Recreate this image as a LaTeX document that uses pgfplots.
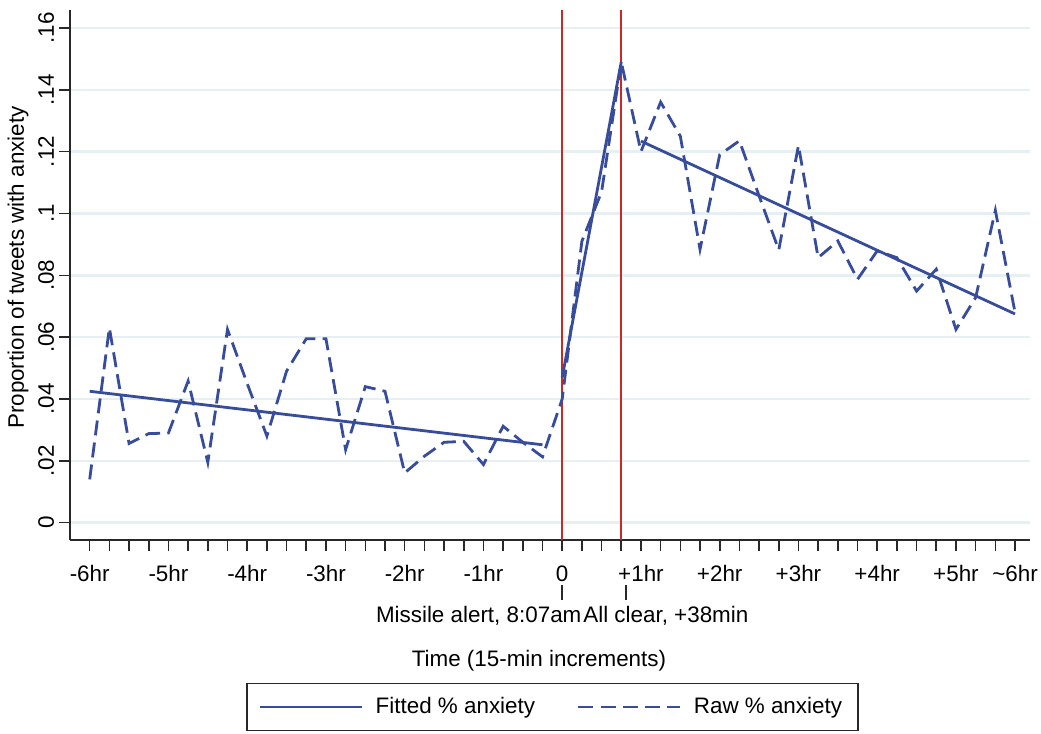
\documentclass[border=0pt]{standalone}
\usepackage{fontspec}
\setmainfont{Liberation Sans}
\usepackage{pgfplots}
\pgfplotsset{compat=1.18}
\usepackage{pgfplotstable}

\definecolor{stblue}{RGB}{56,76,156}
\definecolor{stred}{RGB}{204,40,36}
\definecolor{stgrid}{RGB}{230,239,242}
\definecolor{axisgray}{RGB}{40,40,40}

\newcommand\fs{\fontsize{11.2}{13.4}\selectfont}

% raw share per 15-min slot, 0 = missile alert
\pgfplotstableread{
t raw
-24 0.0140
-23 0.0630
-22 0.0256
-21 0.0288
-20 0.0290
-19 0.0458
-18 0.0195
-17 0.0625
-16 0.0450
-15 0.0280
-14 0.0490
-13 0.0595
-12 0.0595
-11 0.0236
-10 0.0440
-9 0.0425
-8 0.0161
-7 0.0215
-6 0.0260
-5 0.0263
-4 0.0188
-3 0.0312
-2 0.0260
-1 0.0213
0 0.0400
1 0.0910
2 0.1070
3 0.1490
4 0.1200
5 0.1360
6 0.1250
7 0.0884
8 0.1190
9 0.1235
10 0.1057
11 0.0882
12 0.1220
13 0.0857
14 0.0911
15 0.0787
16 0.0879
17 0.0857
18 0.0749
19 0.0820
20 0.0625
21 0.0728
22 0.1010
23 0.0680
}\rawdata

% fitted segments (before / during / after)
\pgfplotstableread{
t fit
-24 0.0425
-1 0.0252
-0.5 nan
0 0.0470
3 0.1490
3.5 nan
4 0.1234
23 0.0675
}\fitdata

\begin{document}
\begin{tikzpicture}
\begin{axis}[
  name=ax,
  scale only axis, width=480pt, height=265pt,
  xmin=-25, xmax=23.76, ymin=-0.0056, ymax=0.1658,
  clip=false,
  axis lines=left,
  axis line style={-, line width=0.8pt, color=axisgray},
  tick align=outside,
  major tick length=5.5pt, minor tick length=5.5pt,
  every tick/.style={line width=0.8pt, color=axisgray},
  xtick={-24,-20,-16,-12,-8,-4,0,4,8,12,16,20,23},
  xticklabels={-6hr,-5hr,-4hr,-3hr,-2hr,-1hr,0,+1hr,+2hr,+3hr,+4hr,+5hr,\textasciitilde 6hr},
  minor xtick={-23,-22,...,22},
  ytick={0,0.02,0.04,0.06,0.08,0.1,0.12,0.14,0.16},
  yticklabels={0,.02,.04,.06,.08,.1,.12,.14,.16},
  tick label style={font=\fs},
  xticklabel style={anchor=base, yshift=-15pt},
  yticklabel style={anchor=base, xshift=-2.5pt, rotate=90},
  ymajorgrids,
  major grid style={stgrid, line width=1.2pt},
  xlabel={Time (15-min increments)},
  ylabel={Proportion of tweets with anxiety},
  every axis x label/.style={at={(axis description cs:0.4885,-0.2396)}, anchor=base, font=\fs},
  every axis y label/.style={at={(axis description cs:-0.0542,0.514)}, rotate=90, anchor=center, font=\fs},
  unbounded coords=jump,
  legend style={at={(0.5026,-0.3151)}, anchor=center, legend columns=2,
    draw=axisgray, line width=0.7pt, fill=white, font=\fs,
    inner xsep=6pt, inner ysep=5pt,
    /tikz/every odd column/.append style={column sep=4pt},
    /tikz/every even column/.append style={column sep=19pt}},
  legend image code/.code={\draw[#1] (0pt,0pt) -- (51pt,0pt);},
]
\addplot[stred, line width=1.2pt, forget plot] coordinates {(0,-0.0056) (0,0.1658)};
\addplot[stred, line width=1.2pt, forget plot] coordinates {(3,-0.0056) (3,0.1658)};
\addplot[stblue, line width=1.4pt] table[x=t, y=fit] {\fitdata};
\addlegendentry{Fitted \% anxiety}
\addplot[stblue, line width=1.4pt, dash pattern=on 7.5pt off 3.6pt] table[x=t, y=raw] {\rawdata};
\addlegendentry{Raw \% anxiety}

\draw[axisgray, line width=0.8pt] ([yshift=-22.5pt]axis cs:0,-0.0056) -- ([yshift=-30pt]axis cs:0,-0.0056);
\draw[axisgray, line width=0.8pt] ([yshift=-22.5pt]axis cs:3.25,-0.0056) -- ([yshift=-30pt]axis cs:3.25,-0.0056);
\node[anchor=base, inner sep=0pt, font=\fs] at ([yshift=-41pt]axis cs:0,-0.0056)
  {Missile alert, 8:07am\hspace{1pt}All clear, +38min};
\end{axis}
\pgfresetboundingbox
\path ([xshift=-35pt,yshift=270pt]ax.south west) rectangle ([xshift=485.5pt,yshift=-97pt]ax.south west);
\end{tikzpicture}
\end{document}
